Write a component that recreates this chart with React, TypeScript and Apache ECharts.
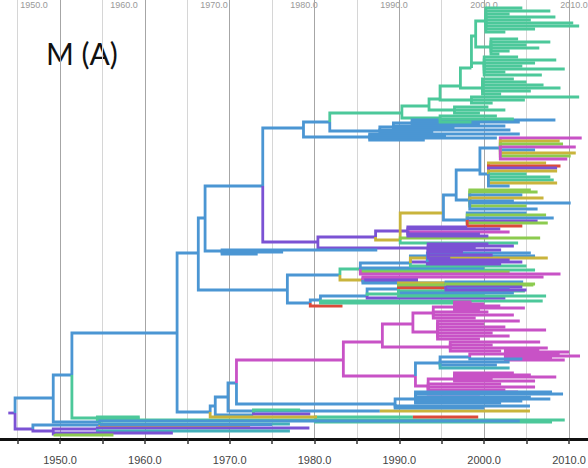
import React, { useEffect, useRef } from 'react';
import * as echarts from 'echarts';

// colour keys: b blue, g green, p purple, m magenta, y gold, r red, l lime, t teal
const colorKeys = ['b', 'g', 'p', 'm', 'y', 'r', 'l', 't'];
const colorHex = ['#4b96d3', '#4cc89a', '#7b52d4', '#c852c6', '#c9b43c', '#dc4a3a', '#8ccb4f', '#45b0bb'];

const panelTitle = 'M (A)';
const topAxisLabels = ['1950.0', '1960.0', '1970.0', '1980.0', '1990.0', '2000.0', '2010.0'];

// [id, parent, year, row, colour]
const backboneNodes: [string, string, number, number, string][] = [
  ['root', '', 1943.9, 413, 'p'],
  ['R1', 'root', 1944.7, 413, 'p'],
  ['A', 'R1', 1949.2, 398, 'b'],
  ['B', 'A', 1951.4, 375, 'b'],
  ['C', 'B', 1963.8, 333, 'b'],
  ['D', 'C', 1966.3, 253, 'b'],
  ['E', 'D', 1967.1, 218, 'b'],
  ['F', 'E', 1973.9, 186, 'b'],
  ['H', 'F', 1978.7, 128, 'b'],
  ['I', 'H', 1981.8, 122, 'b'],
  ['G', 'F', 1980.4, 242, 'p'],
  ['K', 'D', 1976.8, 290, 'b'],
  ['N1', 'C', 1967.7, 412, 'b'],
  ['N2', 'N1', 1968.3, 406, 'b'],
  ['N3', 'N2', 1969.8, 397, 'b'],
  ['N4', 'N3', 1970.8, 383, 'b'],
  ['P1', 'R1', 1946.8, 429, 'p'],
  ['EL', 'E', 1969.1, 251, 'b'],
];

const topBlueNodes: [string, string, number, number, string][] = [
  ['IL', 'I', 1987.7, 131, 'b'],
  ['IL2', 'IL', 1989.3, 127, 'b'],
  ['IL3', 'IL2', 1991.5, 123, 'b'],
  ['HL', 'H', 1986.5, 137, 'b'],
];

const greenNodes: [string, string, number, number, string][] = [
  ['Ga', 'I', 1990.3, 113, 'g'],
  ['Gb', 'Ga', 1993.5, 106, 'g'],
  ['GaL', 'Ga', 1994.8, 118, 'g'],
  ['Gc', 'Gb', 1994.8, 99, 'g'],
  ['GbL', 'Gb', 1996.5, 110, 'g'],
  ['Gd', 'Gc', 1997.2, 86, 'g'],
  ['GcL', 'Gc', 1998.5, 100, 'g'],
  ['Ge', 'Gd', 1998.5, 68, 'g'],
  ['GdL', 'Gd', 1999.8, 88, 'g'],
  ['Gf', 'Ge', 1999.0, 36, 'g'],
  ['Gg', 'Ge', 2000.0, 63, 'g'],
  ['Gh', 'Gf', 2000.2, 21, 'g'],
  ['Gi', 'Gf', 2000.8, 47, 'g'],
];

const mixedNodes: [string, string, number, number, string][] = [
  ['GP1', 'G', 1987.2, 237, 'p'],
  ['GP2', 'G', 1993.4, 248, 'p'],
  ['Pa', 'GP1', 1991.0, 231, 'p'],
  ['Ya', 'GP1', 1990.1, 240, 'y'],
  ['Yb', 'Ya', 1995.2, 213, 'y'],
  ['M1', 'Yb', 1996.7, 195, 'b'],
  ['M7', 'Yb', 1998.0, 220, 'b'],
  ['M2', 'M1', 1999.5, 170, 'b'],
  ['M4', 'M1', 1998.3, 200, 'b'],
  ['M3', 'M2', 2001.9, 148, 'b'],
  ['M6', 'M2', 2000.5, 174, 'b'],
];

const midNodes: [string, string, number, number, string][] = [
  ['K1', 'K', 1983.0, 275, 'b'],
  ['K2', 'K', 1979.5, 303, 'b'],
  ['K1a', 'K1', 1985.4, 269, 'g'],
  ['K1b', 'K1', 1985.7, 280, 'y'],
  ['K1c', 'K1a', 1991.3, 263, 'b'],
  ['K1e', 'K1c', 1993.3, 262, 'p'],
  ['K2a', 'K2', 1980.7, 300, 'b'],
  ['K2b', 'K2a', 1986.2, 296, 'b'],
  ['K2c', 'K2b', 1989.9, 289, 'b'],
  ['K2d', 'K2c', 1995.5, 286, 'b'],
];

const magentaNodes: [string, string, number, number, string][] = [
  ['MG', 'N4', 1983.4, 360, 'm'],
  ['MG1', 'MG', 1988.0, 342, 'm'],
  ['MG2', 'MG', 1991.9, 376, 'm'],
  ['MGa', 'MG1', 1991.6, 324, 'm'],
  ['MGb', 'MG1', 1996.0, 347, 'm'],
  ['MGc', 'MGa', 1994.0, 313, 'm'],
  ['MGd', 'MGa', 1994.5, 332, 'm'],
  ['MGe', 'MGc', 1996.5, 307, 'm'],
  ['MH', 'MG2', 1994.8, 363, 'b'],
  ['MHa', 'MH', 1998.3, 357, 'b'],
  ['MHb', 'MHa', 2002.5, 354, 'm'],
  ['MI', 'MG2', 1993.4, 386, 'm'],
  ['MIa', 'MI', 1996.5, 379, 'm'],
  ['BL', 'N4', 1989.5, 404, 'b'],
  ['BLa', 'BL', 1991.9, 399, 'b'],
];

const basalNodes: [string, string, number, number, string][] = [
  ['N2b', 'N2', 1972.8, 415, 'b'],
  ['N3b', 'N3', 1987.7, 411, 'b'],
  ['BG', 'B', 1954.4, 418, 'g'],
  ['BG2', 'BG', 1980.1, 420, 'g'],
  ['BG3', 'BG2', 1991.6, 417, 'g'],
  ['A2', 'A', 1954.7, 422, 'b'],
  ['P2', 'P1', 1954.7, 425, 'b'],
  ['P3', 'P1', 1949.2, 431, 'p'],
  ['P4', 'P3', 1954.4, 429, 'p'],
  ['P5', 'P3', 1949.4, 434, 'p'],
];

// leaves: [parent, tip year, row, colour]
const topBlueLeaves: [string, number, number, string][] = [
  ['IL3', 2008.4, 120, 'b'], ['IL3', 2004.2, 122, 'b'], ['IL3', 1999.5, 124, 'b'],
  ['IL2', 2002.5, 126, 'b'], ['IL2', 1996.5, 128, 'b'],
  ['IL', 2003.1, 130, 'b'], ['IL', 1994.0, 132, 'b'],
  ['HL', 2004.2, 134, 'b'], ['HL', 1995.5, 136, 'b'], ['HL', 2001.5, 138, 'b'], ['HL', 1993.0, 140, 'b'],
  ['EL', 1987.4, 250, 'b'], ['EL', 1976.3, 252, 'b'], ['EL', 1973.3, 254, 'b'],
];

const greenLeaves: [string, number, number, string][] = [
  ['Gh', 2004.5, 8, 'g'], ['Gh', 2007.8, 11, 'g'], ['Gh', 2003.0, 14, 'g'], ['Gh', 2008.4, 17, 'g'],
  ['Gh', 2005.5, 20, 'g'], ['Gh', 2010.5, 23, 'g'], ['Gh', 2011.2, 26, 'g'], ['Gh', 2006.0, 29, 'g'], ['Gh', 2002.5, 32, 'g'],
  ['Gi', 2004.0, 39, 'g'], ['Gi', 2007.8, 42, 'g'], ['Gi', 2005.0, 45, 'g'], ['Gi', 2006.5, 48, 'g'], ['Gi', 2003.0, 51, 'g'], ['Gi', 2001.8, 54, 'g'],
  ['Gg', 2004.0, 57, 'g'], ['Gg', 2008.5, 60, 'g'], ['Gg', 2006.0, 63, 'g'], ['Gg', 2004.5, 66, 'g'], ['Gg', 2009.5, 69, 'g'], ['Gg', 2002.5, 72, 'g'], ['Gg', 2006.8, 75, 'g'],
  ['GdL', 2003.5, 79, 'g'], ['GdL', 2005.0, 82, 'g'], ['GdL', 2007.0, 85, 'g'], ['GdL', 2009.0, 88, 'g'], ['GdL', 2005.5, 91, 'g'], ['GdL', 2002.0, 94, 'g'],
  ['GcL', 2011.2, 97, 'g'], ['GcL', 2004.8, 100, 'g'], ['GcL', 2001.0, 103, 'g'],
  ['GbL', 2000.5, 107, 'g'], ['GbL', 2002.5, 110, 'g'], ['GbL', 1999.5, 113, 'g'],
  ['GaL', 2001.5, 116, 'g'], ['GaL', 2003.5, 119, 'g'], ['GaL', 1998.5, 122, 'g'],
];

const mixedLeaves: [string, number, number, string][] = [
  ['M3', 2011.5, 138, 'm'], ['M3', 2008.9, 141, 'y'], ['M3', 2009.3, 144, 'l'], ['M3', 2010.8, 147, 'm'],
  ['M3', 2006.0, 150, 'b'], ['M3', 2010.8, 153, 'y'], ['M3', 2010.2, 156, 'l'], ['M3', 2009.8, 159, 'm'],
  ['M6', 2007.3, 163, 'y'], ['M6', 2009.0, 166, 'r'], ['M6', 2008.6, 168, 'p'], ['M6', 2008.6, 171, 'y'],
  ['M6', 2005.0, 174, 'g'], ['M6', 2007.8, 177, 'g'], ['M6', 2008.2, 180, 'g'], ['M6', 2008.6, 183, 'y'], ['M6', 2003.0, 186, 'b'],
  ['M4', 2005.5, 190, 'l'], ['M4', 2006.3, 192, 'l'], ['M4', 2004.5, 195, 'b'], ['M4', 2007.0, 198, 'y'],
  ['M4', 2003.5, 201, 'b'], ['M4', 2010.2, 203, 'b'], ['M4', 2005.0, 206, 'l'], ['M4', 2006.3, 209, 'b'],
  ['M7', 2005.0, 213, 'b'], ['M7', 2007.3, 215, 'l'], ['M7', 2008.2, 218, 'b'], ['M7', 2006.3, 221, 'p'],
  ['M7', 2007.5, 223, 'l'], ['M7', 2004.5, 226, 'r'],
  ['Ya', 2006.6, 238, 'l'], ['Ya', 2004.0, 243, 'g'],
  ['Pa', 1998.0, 227, 'p'], ['Pa', 2001.9, 229, 'p'], ['Pa', 2003.0, 232, 'm'], ['Pa', 1999.5, 234, 'p'], ['Pa', 2000.5, 236, 'p'],
  ['GP2', 2000.5, 244, 'p'], ['GP2', 2003.5, 246, 'p'], ['GP2', 1999.0, 248, 'p'], ['GP2', 2002.0, 250, 'p'],
  ['GP2', 1997.5, 252, 'p'], ['GP2', 2001.0, 255, 'p'], ['GP2', 1996.0, 258, 'p'],
];

const midLeaves: [string, number, number, string][] = [
  ['K1b', 1992.2, 279, 'p'], ['K1b', 1992.2, 281, 'p'], ['K1b', 2007.0, 277, 'm'], ['K1b', 1999.0, 283, 'b'],
  ['K1a', 2006.0, 270, 'g'], ['K1a', 2003.0, 272, 'l'], ['K1a', 2009.0, 274, 'm'], ['K1a', 2000.0, 268, 'b'],
  ['K1c', 2006.0, 256, 'b'], ['K1c', 2007.5, 258, 'y'], ['K1c', 2005.0, 266, 'g'],
  ['K1e', 2003.0, 260, 'p'], ['K1e', 2004.5, 262, 'p'], ['K1e', 2002.0, 264, 'p'], ['K1e', 2005.5, 253, 'b'],
  ['K2', 1983.3, 306, 'r'],
  ['K2a', 2006.9, 301, 'g'], ['K2a', 1998.5, 303, 'g'],
  ['K2b', 2002.5, 298, 'p'], ['K2b', 2000.0, 294, 'g'],
  ['K2c', 2000.5, 283, 'y'], ['K2c', 2005.8, 285, 'l'], ['K2c', 1997.5, 288, 'r'], ['K2c', 2004.8, 291, 'g'],
  ['K2c', 2003.5, 293, 'b'], ['K2c', 2007.3, 296, 'g'],
  ['K2d', 2004.6, 282, 'b'], ['K2d', 2006.0, 284, 'l'], ['K2d', 2004.5, 287, 'p'], ['K2d', 2003.0, 289, 'b'], ['K2d', 2005.0, 290, 'p'],
];

const magentaLeaves: [string, number, number, string][] = [
  ['MGe', 1998.5, 302, 'm'], ['MGe', 2000.0, 304, 'm'], ['MGe', 2001.9, 306, 'm'], ['MGe', 2004.8, 308, 'm'], ['MGe', 1999.5, 310, 'm'],
  ['MGc', 2000.5, 312, 'm'], ['MGc', 2003.5, 315, 'm'], ['MGc', 1999.0, 318, 'm'],
  ['MGd', 2004.2, 321, 'm'], ['MGd', 2000.0, 324, 'm'], ['MGd', 2002.5, 327, 'm'], ['MGd', 2007.3, 330, 'm'],
  ['MGd', 2001.0, 333, 'm'], ['MGd', 2003.0, 336, 'm'], ['MGd', 1999.5, 339, 'm'],
  ['MGb', 2006.6, 342, 'm'], ['MGb', 2001.0, 345, 'm'], ['MGb', 2007.5, 348, 'm'], ['MGb', 2002.0, 351, 'm'],
  ['MHb', 2006.5, 350, 'm'], ['MHb', 2010.0, 352, 'm'], ['MHb', 2008.9, 354, 'm'], ['MHb', 2011.3, 356, 'm'], ['MHb', 2008.0, 358, 'm'], ['MHb', 2009.5, 360, 'm'],
  ['MH', 2001.5, 365, 'b'], ['MH', 2003.0, 368, 't'], ['MH', 2003.0, 362, 'b'],
  ['MHa', 2004.5, 359, 'b'],
  ['MIa', 2003.5, 373, 'm'], ['MIa', 2005.5, 375, 'm'], ['MIa', 2008.5, 377, 'm'], ['MIa', 2001.0, 379, 'm'], ['MIa', 2006.0, 381, 'm'],
  ['MI', 2002.0, 384, 'm'], ['MI', 2006.0, 387, 'm'], ['MI', 2002.5, 390, 'm'], ['MI', 2004.0, 392, 'm'], ['MI', 1999.5, 394, 'm'],
  ['BLa', 2008.0, 392, 'b'], ['BLa', 2009.3, 394, 'b'], ['BLa', 2005.5, 397, 'b'], ['BLa', 2007.8, 399, 'b'], ['BLa', 2004.5, 401, 'b'], ['BLa', 2002.0, 403, 'b'],
  ['BL', 2005.4, 406, 'b'], ['BL', 2000.0, 408, 'b'],
];

const basalLeaves: [string, number, number, string][] = [
  ['N2b', 1978.3, 410, 'g'], ['N2b', 1979.5, 414, 'p'],
  ['N1', 1980.3, 417, 'y'],
  ['N3b', 2005.4, 411, 'y'],
  ['BG', 1959.4, 417, 'g'], ['BG', 1959.4, 419, 'g'],
  ['BG2', 2009.5, 420, 'g'], ['BG2', 2008.0, 422, 'g'],
  ['BG3', 1999.3, 417, 'r'],
  ['A2', 2004.2, 421, 'b'], ['A2', 1977.1, 424, 't'],
  ['P2', 1972.4, 426, 'y'], ['P2', 1975.0, 424.5, 'b'],
  ['P4', 1979.4, 428, 'p'], ['P4', 1977.1, 431, 't'],
  ['P5', 1963.3, 433, 'p'], ['P5', 1956.3, 435, 'l'],
];

function buildSegments(): number[][] {
  const nodes = [...backboneNodes, ...topBlueNodes, ...greenNodes, ...mixedNodes, ...midNodes, ...magentaNodes, ...basalNodes];
  const leaves = [...basalLeaves, ...topBlueLeaves, ...greenLeaves, ...midLeaves, ...magentaLeaves, ...mixedLeaves];
  const map = new Map<string, [string, string, number, number, string]>();
  nodes.forEach((n) => map.set(n[0], n));
  const segs: number[][] = [];
  nodes.forEach((n) => {
    if (!n[1]) return;
    const p = map.get(n[1]);
    if (!p) return;
    segs.push([p[2], p[3], n[2], n[3], colorKeys.indexOf(n[4])]);
  });
  leaves.forEach((l) => {
    const p = map.get(l[0]);
    if (!p) return;
    segs.push([p[2], p[3], l[1], l[2], colorKeys.indexOf(l[3])]);
  });
  return segs;
}

export default function App() {
  const ref = useRef<HTMLDivElement>(null);
  useEffect(() => {
    document.body.style.margin = '0';
    if (!ref.current) return;
    const chart = echarts.init(ref.current, null, { renderer: 'svg' });
    const segs = buildSegments();
    chart.setOption({
      animation: false,
      backgroundColor: '#ffffff',
      grid: { left: -24.8, right: -23.4, top: 0, bottom: 29, containLabel: false, outerBoundsMode: 'none' },
      xAxis: {
        type: 'value',
        min: 1940,
        max: 2015,
        interval: 5,
        axisLine: { show: true, onZero: false, lineStyle: { color: '#111', width: 3 } },
        axisTick: { show: true, length: 5, lineStyle: { color: '#333', width: 1.5 } },
        axisLabel: {
          formatter: (v: number) => (Math.round(v) % 10 === 0 && v > 1945 ? v.toFixed(1) : ''),
          color: '#444',
          fontSize: 11,
          margin: 15,
          fontFamily: 'Liberation Sans, Arial, sans-serif',
        },
        splitLine: { show: true, lineStyle: { color: ['#a6a6a6', '#d6d6d6'], width: 1 } },
      },
      yAxis: { type: 'value', inverse: true, min: 0, max: 439, show: false },
      series: [
        {
          type: 'custom',
          clip: false,
          data: segs,
          renderItem: (params: any, api: any) => {
            const p = api.coord([api.value(0), api.value(1)]);
            const c = api.coord([api.value(2), api.value(3)]);
            return {
              type: 'polyline',
              silent: true,
              shape: { points: [[p[0], p[1]], [p[0], c[1]], [c[0], c[1]]] },
              style: {
                stroke: colorHex[api.value(4)],
                lineWidth: 2.8,
                fill: 'none',
                lineJoin: 'miter',
                lineCap: 'butt',
              },
            };
          },
        },
      ],
      graphic: [
        {
          type: 'text',
          left: 46,
          top: 38,
          style: { text: panelTitle, font: '30px Lato, "Open Sans", sans-serif', fill: '#111' },
        },
        ...topAxisLabels.map((t, i) => ({
          type: 'text',
          x: 34 + i * 90,
          y: 5,
          style: { text: t, font: '9px "Liberation Sans", Arial, sans-serif', fill: '#999', align: 'center', verticalAlign: 'middle' },
        })),
      ],
    });
    return () => chart.dispose();
  }, []);
  return (
    <div style={{ position: 'absolute', left: 0, top: 0 }}>
      <div ref={ref} style={{ width: 588, height: 468 }} />
    </div>
  );
}
